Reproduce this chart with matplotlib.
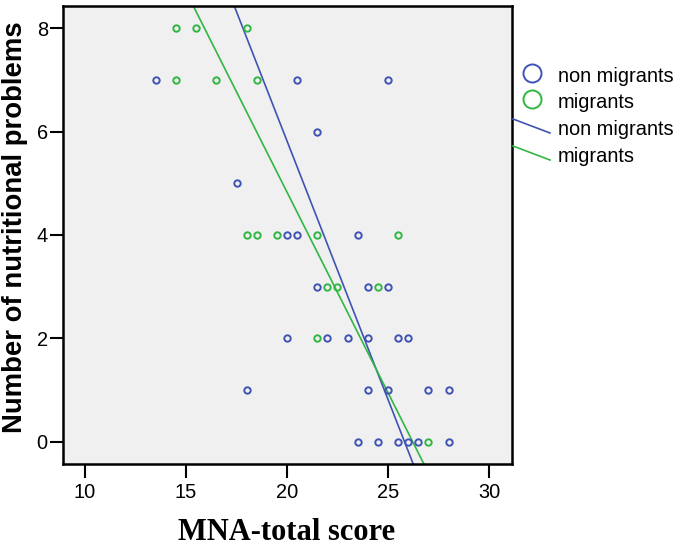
import numpy as np
import matplotlib
matplotlib.use("Agg")
import matplotlib.pyplot as plt
from matplotlib.lines import Line2D

W, H = 680, 552

# MNA-total score / number of nutritional problems
non_migrants_x = [13.5, 17.5, 20.0, 20.5, 25.0, 21.5, 20.5, 23.5, 18.0, 20.0,
                  21.5, 24.0, 25.0, 22.0, 23.0, 24.0, 25.5, 26.0, 24.0, 25.0,
                  27.0, 28.0, 23.5, 24.5, 25.5, 26.0, 26.5, 28.0]
non_migrants_y = [7, 5, 4, 7, 7, 6, 4, 4, 1, 2,
                  3, 3, 3, 2, 2, 2, 2, 2, 1, 1,
                  1, 1, 0, 0, 0, 0, 0, 0]
migrants_x = [14.5, 15.5, 18.0, 14.5, 16.5, 18.5, 18.0, 18.5, 19.5, 21.5,
              25.5, 22.0, 22.5, 24.5, 21.5, 27.0]
migrants_y = [8, 8, 8, 7, 7, 7, 4, 4, 4, 4,
              4, 3, 3, 3, 2, 0]

# fit lines (intercept, slope) as drawn in the picture
fit_non_migrants = (25.82, -1.0)
fit_migrants = (20.35, -0.776)

x_ticks = [10, 15, 20, 25, 30]
y_ticks = [0, 2, 4, 6, 8]
labels = ["non migrants", "migrants"]

BLUE = "#3f53b3"
GREEN = "#31b743"


def fx(px):
    return px / W


def fy(py):
    return 1 - py / H


def main():
    fig = plt.figure(figsize=(W / 100, H / 100), dpi=100)
    ax = fig.add_axes([fx(63), fy(464), fx(512) - fx(63), fy(6) - fy(464)])
    ax.set_facecolor("#f0f0f0")

    ax.plot(non_migrants_x, non_migrants_y, ls="none", marker="o", ms=4.6,
            mfc="none", mec=BLUE, mew=1.4, zorder=3)
    ax.plot(migrants_x, migrants_y, ls="none", marker="o", ms=4.6,
            mfc="none", mec=GREEN, mew=1.4, zorder=3)

    ax.axline((0, fit_non_migrants[0]), slope=fit_non_migrants[1],
              color=BLUE, lw=1.2, zorder=2)
    ax.axline((0, fit_migrants[0]), slope=fit_migrants[1],
              color=GREEN, lw=1.2, zorder=2)

    ax.set_xlim(8.91, 31.14)
    ax.set_ylim(-0.43, 8.43)
    ax.set_xticks(x_ticks)
    ax.set_yticks(y_ticks)
    ax.tick_params(axis="both", direction="out", width=1.5, labelsize=14.4)
    ax.tick_params(axis="x", length=10, pad=4)
    ax.tick_params(axis="y", length=9.4, pad=1.5)
    for lab in ax.get_xticklabels() + ax.get_yticklabels():
        lab.set_fontfamily("Liberation Sans")
    for sp in ax.spines.values():
        sp.set_linewidth(1.8)

    fig.text(fx(15), fy(227), "Number of nutritional problems", rotation=90,
             ha="center", va="center", fontsize=19.8, fontweight="bold",
             family="Liberation Sans")
    fig.text(fx(287), fy(532), "MNA-total score", ha="center", va="center",
             fontsize=22, fontweight="bold", family="Liberation Serif")

    # legend, drawn outside the axes on the right
    rows = [82, 108, 135, 162]
    for i, (lab, col) in enumerate(zip(labels, [BLUE, GREEN])):
        fig.add_artist(Line2D([fx(532)], [fy(rows[i] - 9)], marker="o", ms=13,
                              mfc="none", mec=col, mew=1.4, ls="none"))
        fig.text(fx(558), fy(rows[i]), lab, fontsize=14.4, va="baseline",
                 family="Liberation Sans")
    for i, (lab, col) in enumerate(zip(labels, [BLUE, GREEN])):
        y0 = rows[i + 2] - 16
        fig.add_artist(Line2D([fx(513), fx(550)], [fy(y0), fy(y0 + 14)],
                              color=col, lw=1.2))
        fig.text(fx(558), fy(rows[i + 2]), lab, fontsize=14.4, va="baseline",
                 family="Liberation Sans")

    fig.savefig("out.png", dpi=100)
    plt.close(fig)


if __name__ == "__main__":
    main()
